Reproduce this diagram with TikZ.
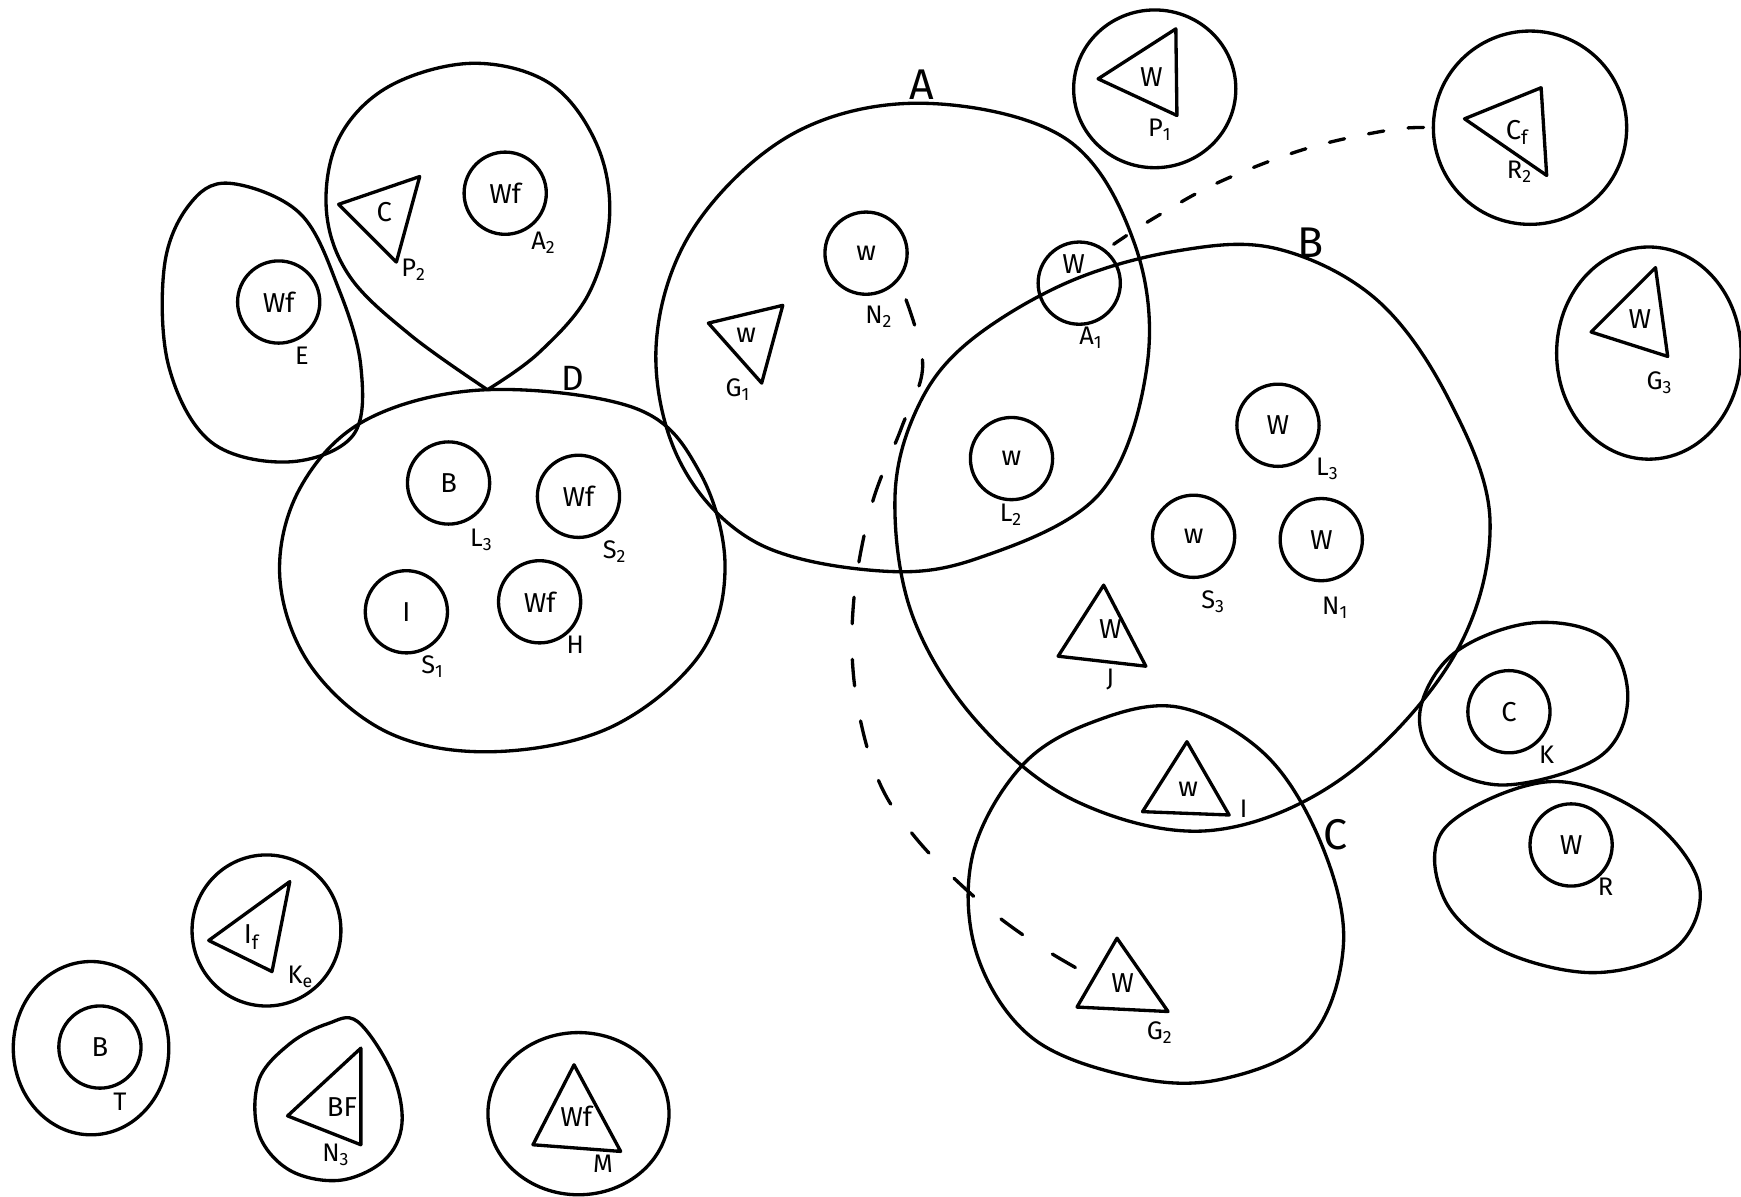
\documentclass[tikz,border=0pt]{standalone}
\usepackage{fontspec}
\setmainfont{Fira Sans}
\usetikzlibrary{shapes.geometric}
\begin{document}
\begin{tikzpicture}[x=0.01cm,y=-0.01cm,
  ln/.style={line width=0.85pt,line join=round,line cap=round},
  ic/.style={ln,draw,circle,minimum size=0.74cm,inner sep=0pt,font=\fontsize{7}{8}\selectfont},
  oval/.style={ln,draw,ellipse,inner sep=0pt},
  txt/.style={inner sep=0pt,font=\fontsize{7}{8}\selectfont},
  lbl/.style={inner sep=0pt,font=\fontsize{6.5}{7}\selectfont},
  big/.style={inner sep=0pt,font=\fontsize{11}{12}\selectfont},
  dlineA/.style={ln,dash pattern=on 0.24cm off 0.32cm},
  dlineB/.style={ln,dash pattern=on 0.14cm off 0.22cm}]
\useasboundingbox (0,0) rectangle (1568,1078);

% ---------- large regions ----------
% A
\draw[ln] plot[smooth cycle,tension=0.6] coordinates {(832,93) (960,125) (1022,220) (1033,330) (990,445) (880,503) (790,514) (680,488) (612,415) (591,310) (625,205) (715,120)};
% B
\draw[ln] plot[smooth cycle,tension=0.6] coordinates {(870,310) (960,255) (1060,226) (1150,224) (1240,270) (1305,360) (1342,470) (1310,590) (1210,700) (1090,748) (970,722) (880,650) (822,555) (806,450) (825,370)};
% C
\draw[ln] plot[smooth cycle,tension=0.6] coordinates {(1062,637) (1140,680) (1190,760) (1210,850) (1180,935) (1100,972) (1020,970) (930,935) (880,860) (876,770) (920,690) (985,650)};
% D
\draw[ln] plot[smooth cycle,tension=0.6] coordinates {(438,351) (573,368) (630,425) (653,510) (630,590) (550,655) (444,677) (350,660) (280,600) (252,520) (270,440) (330,378)};
% E region
\draw[ln] plot[smooth cycle,tension=0.6] coordinates {(206,165) (270,192) (305,260) (325,330) (318,392) (260,416) (190,398) (152,330) (148,240) (170,185)};
% A2 region (pointed bottom)
\draw[ln] plot[smooth,tension=0.6] coordinates {(439,351) (370,302) (315,249) (294,190) (305,125) (350,78) (425,57) (495,75) (537,129) (549,195) (530,265) (485,318) (439,351)};
% K region
\draw[ln] plot[smooth cycle,tension=0.6] coordinates {(1380,561) (1445,575) (1466,630) (1440,682) (1355,707) (1295,685) (1279,640) (1310,588)};
% R region
\draw[ln] plot[smooth cycle,tension=0.6] coordinates {(1395,704) (1480,733) (1530,795) (1510,853) (1436,876) (1350,855) (1300,808) (1302,745)};
% N3 region
\draw[ln] plot[smooth cycle,tension=0.6] coordinates {(322,920) (353,966) (362,1012) (346,1045) (306,1063) (261,1054) (233,1021) (233,973) (261,940) (295,922)};

% ellipse regions
\node[oval,minimum width=1.46cm,minimum height=1.42cm] (p1c) at (1040,80) {};
\node[oval,minimum width=1.74cm,minimum height=1.74cm] (r2c) at (1378,115) {};
\node[oval,minimum width=1.66cm,minimum height=1.91cm] (g3c) at (1485,318) {};
\node[oval,minimum width=1.63cm,minimum height=1.46cm] (mc) at (521,1003) {};
\node[oval,minimum width=1.40cm,minimum height=1.56cm] (tc) at (82,944) {};
\node[oval,minimum width=1.34cm,minimum height=1.36cm] (kec) at (240,838) {};

% ---------- region labels ----------
\node[big] (labA) at (830,76) {A};
\node[big] (labB) at (1180,219) {B};
\node[big] (labC) at (1203,752) {C};
\node[big,font=\fontsize{9}{10}\selectfont] (labD) at (516,341) {D};

% ---------- small circles ----------
\node[ic] (e) at (251,272) {Wf};
\node[lbl] at (272,320) {E};
\node[ic] (a2) at (455,174) {Wf};
\node[lbl] at (490,219) {A\textsubscript{2}};
\node[ic] (db) at (404,435) {B};
\node[lbl] at (434,486) {L\textsubscript{3}};
\node[ic] (ds2) at (521,447) {Wf};
\node[lbl] at (554,497) {S\textsubscript{2}};
\node[ic] (ds1) at (366,551) {I};
\node[lbl] at (390,600) {S\textsubscript{1}};
\node[ic] (dh) at (486,542) {Wf};
\node[lbl] at (518,581) {H};
\node[ic] (n2) at (780,228) {w};
\node[lbl] at (792,285) {N\textsubscript{2}};
\node[ic] (a1) at (972,255) {};
\node[txt] at (967,238) {W};
\node[lbl] at (983,304) {A\textsubscript{1}};
\node[ic] (l2) at (911,413) {w};
\node[lbl] at (911,464) {L\textsubscript{2}};
\node[ic] (l3) at (1151,383) {W};
\node[lbl] at (1196,422) {L\textsubscript{3}};
\node[ic] (s3) at (1075,483) {w};
\node[lbl] at (1093,542) {S\textsubscript{3}};
\node[ic] (n1) at (1190,486) {W};
\node[lbl] at (1203,547) {N\textsubscript{1}};
\node[ic] (k) at (1359,641) {C};
\node[lbl] at (1393,680) {K};
\node[ic] (r) at (1415,761) {W};
\node[lbl] at (1446,799) {R};
\node[ic] (t) at (90,943) {B};
\node[lbl] at (108,992) {T};

% ---------- triangles ----------
\draw[ln] (305,184) -- (378,159) -- (357,236) -- cycle;
\node[txt] (p2t) at (346,191) {C};
\node[lbl] at (373,243) {P\textsubscript{2}};

\draw[ln] (638,291) -- (705,275) -- (686,345) -- cycle;
\node[txt] (g1t) at (672,302) {w};
\node[lbl] at (665,351) {G\textsubscript{1}};

\draw[ln] (994,527) -- (1032,600) -- (953,591) -- cycle;
\node[txt] (jt) at (1000,567) {W};
\node[lbl] at (1000,612) {J};

\draw[ln] (1069,668) -- (1107,734) -- (1029,731) -- cycle;
\node[txt] (it) at (1070,711) {w};
\node[lbl] at (1120,728) {I};

\draw[ln] (1006,845) -- (1052,911) -- (970,907) -- cycle;
\node[txt] (g2t) at (1011,885) {W};
\node[lbl] at (1045,930) {G\textsubscript{2}};

\draw[ln] (989,71) -- (1059,26) -- (1060,104) -- cycle;
\node[txt] (p1t) at (1037,69) {W};
\node[lbl] at (1045,117) {P\textsubscript{1}};

\draw[ln] (1319,107) -- (1388,79) -- (1393,158) -- cycle;
\node[txt] (r2t) at (1367,119) {C\textsubscript{f}};
\node[lbl] at (1369,155) {R\textsubscript{2}};

\draw[ln] (1433,299) -- (1491,241) -- (1502,321) -- cycle;
\node[txt] (g3t) at (1477,287) {W};
\node[lbl] at (1495,345) {G\textsubscript{3}};

\draw[ln] (188,847) -- (261,794) -- (245,875) -- cycle;
\node[txt] (ket) at (227,844) {I\textsubscript{f}};
\node[lbl] at (271,880) {K\textsubscript{e}};

\draw[ln] (259,1005) -- (325,944) -- (325,1031) -- cycle;
\node[txt] (n3t) at (308,997) {BF};
\node[lbl] at (303,1040) {N\textsubscript{3}};

\draw[ln] (517,959) -- (559,1037) -- (480,1031) -- cycle;
\node[txt] (mt) at (519,1005) {Wf};
\node[lbl] at (543,1048) {M};

% ---------- dashed connectors ----------
\coordinate (d0) at (816,270);
\coordinate (g2w) at (975,875);
\draw[dlineA] plot[smooth,tension=0.6] coordinates {(d0) (831,330) (812,385) (785,455) (769,540) (770,620) (790,700) (825,755) (880,810) (930,848) (g2w)};
\coordinate (a1e) at (1003,220);
\draw[dlineB] plot[smooth,tension=0.6] coordinates {(a1e) (1040,196) (1098,164) (1176,134) (1252,117) (r2c.west)};
\end{tikzpicture}
\end{document}
